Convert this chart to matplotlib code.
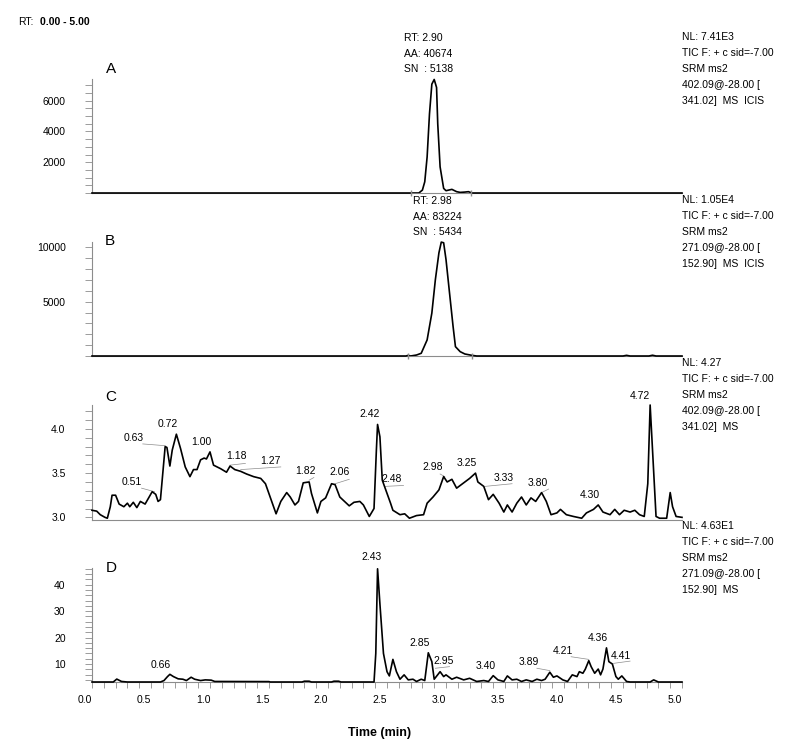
import matplotlib
matplotlib.use("Agg")
import matplotlib.pyplot as plt
from matplotlib.ticker import MultipleLocator, FixedLocator, NullLocator
from matplotlib.transforms import ScaledTranslation

plt.rcParams['font.family'] = ['Liberation Sans', 'DejaVu Sans']

# ---- data ----
a_time = [0.0, 2.77, 2.80, 2.82, 2.84, 2.86, 2.88, 2.90, 2.92, 2.93, 2.95, 2.98,
          3.00, 3.05, 3.09, 3.12, 3.16, 3.19, 3.22, 5.0]
a_int = [0, 0, 190, 730, 2340, 5140, 7075, 7380, 6860, 4500, 1700, 300,
         150, 236, 86, 40, 60, 86, 0, 0]

b_time = [0.0, 2.66, 2.68, 2.70, 2.75, 2.79, 2.84, 2.88, 2.91, 2.94, 2.96, 2.98,
          3.00, 3.03, 3.06, 3.08, 3.12, 3.16, 3.22, 3.26, 4.50, 4.53, 4.56,
          4.72, 4.75, 4.78, 5.0]
b_int = [0, 0, 60, 0, 90, 250, 1480, 3950, 7040, 9500, 10490, 10430,
         8890, 5800, 2720, 860, 400, 185, 60, 0, 0, 60, 0,
         0, 70, 0, 0]

c_time = [0.00, 0.04, 0.07, 0.11, 0.13, 0.155, 0.17, 0.20, 0.23, 0.27, 0.30, 0.32,
          0.35, 0.38, 0.41, 0.45, 0.51, 0.54, 0.56, 0.58, 0.62, 0.635, 0.66, 0.68,
          0.715, 0.75, 0.79, 0.83, 0.86, 0.89, 0.92, 0.95, 0.97, 1.00, 1.03, 1.09,
          1.14, 1.17, 1.21, 1.26, 1.31, 1.37, 1.43, 1.47, 1.51, 1.56, 1.60, 1.65,
          1.68, 1.72, 1.75, 1.79, 1.84, 1.86, 1.91, 1.94, 1.98, 2.03, 2.06, 2.10,
          2.18, 2.22, 2.27, 2.30, 2.35, 2.39, 2.41, 2.42, 2.44, 2.46, 2.49, 2.53,
          2.55, 2.61, 2.65, 2.69, 2.75, 2.81, 2.84, 2.89, 2.94, 2.98, 3.01, 3.05,
          3.09, 3.13, 3.18, 3.20, 3.25, 3.27, 3.32, 3.36, 3.40, 3.45, 3.49, 3.52,
          3.56, 3.60, 3.64, 3.68, 3.72, 3.76, 3.81, 3.85, 3.89, 3.94, 3.97, 4.02,
          4.08, 4.15, 4.19, 4.25, 4.29, 4.33, 4.39, 4.43, 4.47, 4.51, 4.56, 4.60,
          4.64, 4.68, 4.71, 4.73, 4.75, 4.78, 4.81, 4.87, 4.90, 4.92, 4.95, 5.00]
c_int = [3.08, 3.07, 3.03, 3.00, 2.99, 3.12, 3.25, 3.25, 3.15, 3.12, 3.16, 3.12,
         3.17, 3.11, 3.18, 3.15, 3.29, 3.26, 3.18, 3.20, 3.80, 3.79, 3.58, 3.76,
         3.94, 3.78, 3.57, 3.46, 3.54, 3.54, 3.65, 3.67, 3.66, 3.74, 3.59, 3.55,
         3.51, 3.58, 3.54, 3.52, 3.49, 3.46, 3.44, 3.38, 3.23, 3.04, 3.18, 3.28,
         3.23, 3.14, 3.18, 3.39, 3.40, 3.27, 3.05, 3.18, 3.22, 3.38, 3.37, 3.23,
         3.13, 3.17, 3.18, 3.14, 3.01, 3.10, 3.76, 4.05, 3.91, 3.42, 3.31, 3.16,
         3.08, 3.03, 3.04, 2.99, 3.02, 3.03, 3.16, 3.23, 3.31, 3.46, 3.40, 3.43,
         3.33, 3.37, 3.42, 3.44, 3.50, 3.40, 3.35, 3.20, 3.26, 3.16, 3.06, 3.14,
         3.06, 3.16, 3.23, 3.14, 3.22, 3.18, 3.28, 3.18, 3.03, 3.05, 3.09, 3.03,
         3.01, 2.99, 3.05, 3.09, 3.14, 3.06, 3.03, 3.09, 3.03, 3.08, 3.06, 3.08,
         3.03, 3.01, 3.38, 4.27, 3.76, 3.01, 2.99, 2.99, 3.28, 3.12, 3.01, 3.00]

d_time = [0.00, 0.18, 0.21, 0.25, 0.30, 0.58, 0.61, 0.64, 0.66, 0.69, 0.73, 0.77,
          0.80, 0.84, 0.87, 0.92, 0.96, 1.01, 1.04, 1.50, 1.51, 1.78, 1.80, 1.84,
          1.86, 2.03, 2.05, 2.09, 2.11, 2.39, 2.405, 2.42, 2.44, 2.47, 2.50, 2.52,
          2.55, 2.58, 2.61, 2.645, 2.68, 2.72, 2.75, 2.79, 2.82, 2.85, 2.88, 2.90,
          2.95, 2.98, 3.00, 3.05, 3.09, 3.15, 3.20, 3.26, 3.32, 3.36, 3.40, 3.44,
          3.49, 3.52, 3.56, 3.60, 3.64, 3.68, 3.73, 3.77, 3.81, 3.84, 3.88, 3.91,
          3.94, 3.99, 4.03, 4.07, 4.11, 4.13, 4.16, 4.18, 4.21, 4.23, 4.26, 4.29,
          4.31, 4.33, 4.36, 4.38, 4.41, 4.44, 4.46, 4.49, 4.53, 4.56, 4.73, 4.76,
          4.80, 5.00]
d_int = [3.2, 3.2, 4.3, 3.4, 3.2, 3.2, 3.75, 5.25, 6.1, 5.25, 4.4, 4.25,
         3.75, 5.0, 4.25, 3.75, 4.0, 3.9, 3.4, 3.35, 3.2, 3.2, 3.5, 3.5,
         3.2, 3.2, 3.5, 3.5, 3.2, 3.2, 14.0, 46.0, 32.7, 14.0, 7.1, 5.5,
         11.75, 7.1, 4.25, 5.9, 4.0, 4.25, 3.4, 4.25, 3.75, 14.25, 10.9, 4.25,
         7.1, 5.25, 5.9, 4.25, 5.0, 4.0, 4.6, 3.4, 3.75, 3.4, 5.6, 4.0,
         3.4, 5.5, 4.0, 4.25, 3.4, 4.0, 3.4, 4.25, 3.75, 4.25, 6.9, 5.0,
         5.5, 4.0, 3.4, 5.9, 5.25, 7.1, 6.5, 8.0, 11.25, 9.0, 6.5, 8.1,
         5.9, 8.1, 16.1, 10.9, 10.0, 5.25, 4.25, 5.5, 3.4, 3.2, 3.2, 4.0,
         3.2, 3.2]

# peak labels: text, label x, label y
c_labels = [("0.51", 0.34, 3.40), ("0.63", 0.35, 3.90), ("0.72", 0.645, 4.06),
            ("1.00", 0.93, 3.85), ("1.18", 1.22, 3.69), ("1.27", 1.51, 3.64),
            ("1.82", 1.81, 3.52), ("2.06", 2.10, 3.51), ("2.42", 2.35, 4.17),
            ("2.48", 2.54, 3.43), ("2.98", 2.89, 3.57), ("3.25", 3.18, 3.61),
            ("3.33", 3.49, 3.45), ("3.80", 3.78, 3.39), ("4.30", 4.22, 3.25),
            ("4.72", 4.64, 4.37)]
c_leaders = [((0.42, 0.53), (3.33, 3.29)), ((0.43, 0.62), (3.83, 3.81)),
             ((1.17, 1.30), (3.59, 3.61)), ((1.26, 1.60), (3.54, 3.57)),
             ((1.84, 1.88), (3.42, 3.45)), ((2.06, 2.18), (3.38, 3.43)),
             ((2.48, 2.64), (3.35, 3.36)), ((2.95, 2.99), (3.49, 3.46)),
             ((3.33, 3.56), (3.35, 3.38)), ((3.81, 3.87), (3.28, 3.32))]

d_labels = [("0.66", 0.585, 9.6), ("2.43", 2.37, 50.5), ("2.85", 2.78, 18.0),
            ("2.95", 2.98, 11.1), ("3.40", 3.34, 9.4), ("3.89", 3.70, 10.9),
            ("4.21", 3.99, 15.0), ("4.36", 4.29, 19.9), ("4.41", 4.48, 13.1)]
d_leaders = [((2.91, 3.03), (8.4, 9.0)), ((3.77, 3.88), (8.4, 7.5)),
             ((4.06, 4.21), (12.75, 11.75)), ((4.42, 4.56), (10.25, 11.1))]

info_a = ["NL: 7.41E3", "TIC F: + c sid=-7.00", "SRM ms2", "402.09@-28.00 [", "341.02]  MS  ICIS"]
info_b = ["NL: 1.05E4", "TIC F: + c sid=-7.00", "SRM ms2", "271.09@-28.00 [", "152.90]  MS  ICIS"]
info_c = ["NL: 4.27", "TIC F: + c sid=-7.00", "SRM ms2", "402.09@-28.00 [", "341.02]  MS"]
info_d = ["NL: 4.63E1", "TIC F: + c sid=-7.00", "SRM ms2", "271.09@-28.00 [", "152.90]  MS"]

peak_a = (2.90, ["RT: 2.90", "AA: 40674", "SN  : 5138"])
peak_b = (2.98, ["RT: 2.98", "AA: 83224", "SN  : 5434"])

# ---- figure ----
W, H = 800, 750
fig = plt.figure(figsize=(W / 100, H / 100), dpi=100)
GRAY = "#8c8c8c"
FS = 7.5


def make_axes(top, bottom):
    ax = fig.add_axes([92 / W, 1 - bottom / H, 590 / W, (bottom - top) / H])
    for s in ["top", "right"]:
        ax.spines[s].set_visible(False)
    for s in ["left", "bottom"]:
        ax.spines[s].set_color(GRAY)
        ax.spines[s].set_linewidth(0.8)
    ax.set_xlim(0, 5.0)
    ax.tick_params(axis="y", which="both", direction="out", length=5, width=0.6,
                   color=GRAY, labelsize=FS, pad=14)
    ax.xaxis.set_major_locator(NullLocator())
    return ax


axA = make_axes(79, 193)
axB = make_axes(242, 356)
axC = make_axes(405, 520)
axD = make_axes(568, 682)

axA.set_ylim(0, 7410)
axA.yaxis.set_major_locator(FixedLocator([2000, 4000, 6000]))
axA.yaxis.set_minor_locator(MultipleLocator(500))

axB.set_ylim(0, 10500)
axB.yaxis.set_major_locator(FixedLocator([5000, 10000]))
axB.yaxis.set_minor_locator(MultipleLocator(1000))

axC.set_ylim(2.97, 4.27)
axC.yaxis.set_major_locator(FixedLocator([3.0, 3.5, 4.0]))
axC.yaxis.set_minor_locator(MultipleLocator(0.1))
axC.yaxis.set_major_formatter(lambda v, p: f"{v:.1f}")

axD.set_ylim(3.2, 46.3)
axD.yaxis.set_major_locator(FixedLocator([10, 20, 30, 40]))
axD.yaxis.set_minor_locator(MultipleLocator(2))

for ax, t, y in [(axA, a_time, a_int), (axB, b_time, b_int),
                 (axC, c_time, c_int), (axD, d_time, d_int)]:
    ax.plot(t, y, color="black", lw=1.2, clip_on=False, zorder=3)

# integration markers on A and B
axA.plot([2.70, 3.21], [0, 0], color=GRAY, lw=0.6, marker="|", ms=4, clip_on=False, zorder=4)
axB.plot([2.68, 3.22], [0, 0], color=GRAY, lw=0.6, marker="|", ms=4, clip_on=False, zorder=4)

# x axis on D
axD.xaxis.set_major_locator(MultipleLocator(0.5))
axD.xaxis.set_minor_locator(MultipleLocator(0.1))
axD.xaxis.set_major_formatter(lambda v, p: f"{v:.1f}")
axD.tick_params(axis="x", which="both", direction="out", length=4.3, width=0.6,
                color=GRAY, labelsize=FS, pad=5)
shift = ScaledTranslation(-7 / 100, 0, fig.dpi_scale_trans)
for lbl in axD.get_xticklabels():
    lbl.set_transform(lbl.get_transform() + shift)

# peak labels
for ax, labels, leaders in [(axC, c_labels, c_leaders), (axD, d_labels, d_leaders)]:
    for txt, x, y in labels:
        ax.text(x, y, txt, fontsize=FS, ha="center", va="center", clip_on=False)
    for xs, ys in leaders:
        ax.plot(xs, ys, color=GRAY, lw=0.5, clip_on=False)

# RT / AA / SN blocks
for ax, (rt, lines) in [(axA, peak_a), (axB, peak_b)]:
    top = ax.get_ylim()[1]
    for i, line in enumerate(lines):
        ax.annotate(line, xy=(rt, top), xycoords="data",
                    xytext=(-22, 29.5 - i * 11.2), textcoords="offset points",
                    ha="left", va="center", fontsize=FS)

# info blocks on the right
for ax, lines in [(axA, info_a), (axB, info_b), (axC, info_c), (axD, info_d)]:
    for i, line in enumerate(lines):
        ax.annotate(line, xy=(1, 1), xycoords="axes fraction",
                    xytext=(0, 30 - i * 11.5), textcoords="offset points",
                    ha="left", va="center", fontsize=FS)

# panel letters
for letter, (px, py) in zip("ABCD", [(111, 69), (110, 241), (111, 397), (111, 568)]):
    fig.text(px / W, 1 - py / H, letter, fontsize=11, ha="center", va="center")

fig.text(18 / W, 1 - 22 / H, "RT:", fontsize=7.5, ha="left", va="center")
fig.text(40 / W, 1 - 22 / H, "0.00 - 5.00", fontsize=7.5, ha="left", va="center",
         fontweight="semibold")
fig.text(380 / W, 1 - 733 / H, "Time (min)", fontsize=9, fontweight="bold",
         ha="center", va="center")

fig.savefig("out.png", dpi=100)
